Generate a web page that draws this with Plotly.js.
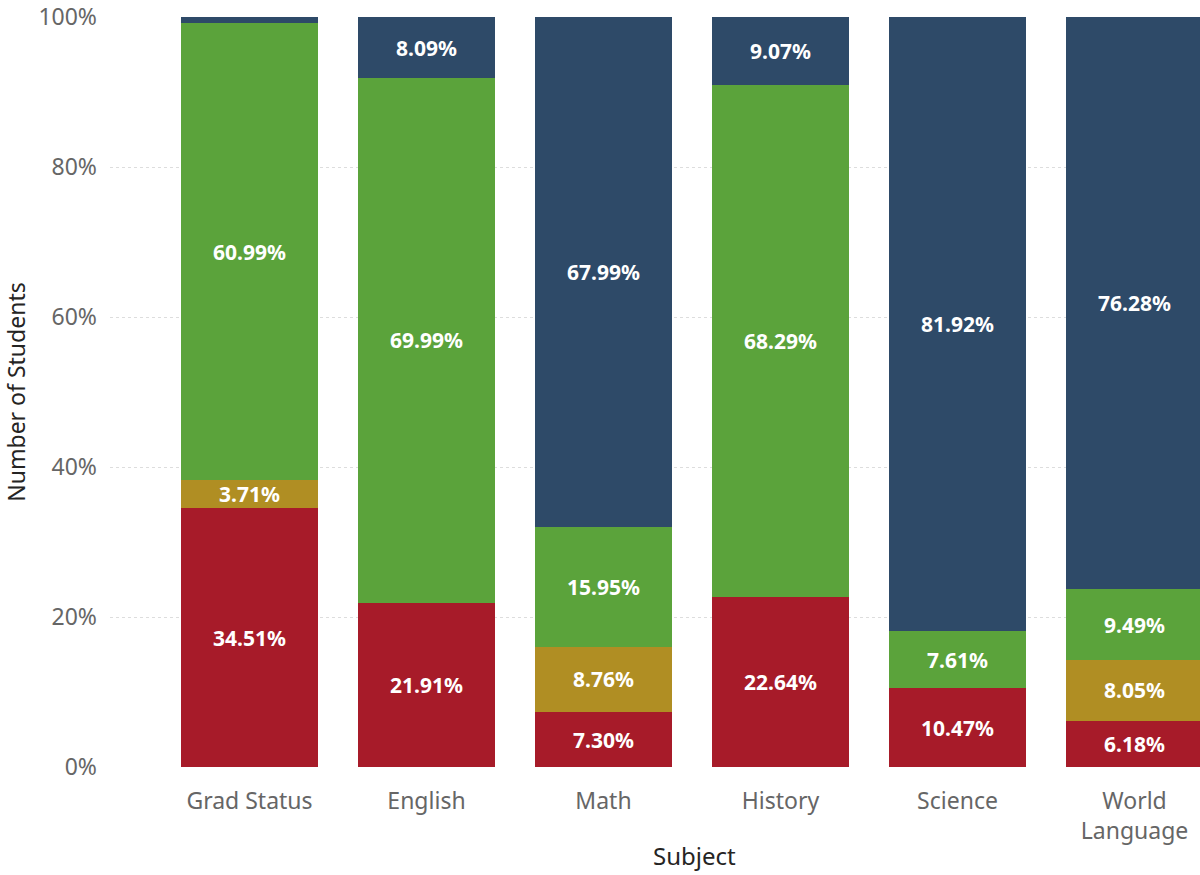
<!DOCTYPE html>
<html>
<head>
<meta charset="utf-8">
<script src="https://cdn.plot.ly/plotly-3.0.1.min.js"></script>
<style>html,body{margin:0;padding:0;background:#fff;}#chart{width:1200px;height:875px;}</style>
</head>
<body>
<div id="chart"></div>
<script>
const categories = ["Grad Status", "English", "Math", "History", "Science", "World<br>Language"];
const redValues   = [34.51, 21.91, 7.30, 22.64, 10.47, 6.18];
const goldValues  = [3.71, 0.00, 8.76, 0.00, 0.00, 8.05];
const greenValues = [60.99, 69.99, 15.95, 68.29, 7.61, 9.49];
const navyValues  = [0.79, 8.09, 67.99, 9.07, 81.92, 76.28];
const seriesNames = ["Red", "Gold", "Green", "Navy"];
const seriesColors = ["#A71B29", "#B08E23", "#5BA33B", "#2E4A68"];
const yTickVals = [0, 20, 40, 60, 80, 100];

const FONT = "'Segoe UI', 'Noto Sans', 'Open Sans', sans-serif";
const allValues = [redValues, goldValues, greenValues, navyValues];
const labelOf = v => v >= 2 ? v.toFixed(2) + '%' : '';

const traces = allValues.map((vals, i) => ({
  type: 'bar',
  name: seriesNames[i],
  x: categories,
  y: vals,
  text: vals.map(labelOf),
  textposition: 'inside',
  insidetextanchor: 'middle',
  textangle: 0,
  constraintext: 'none',
  textfont: {family: FONT, size: 21, color: '#ffffff', weight: 'bold'},
  marker: {color: seriesColors[i], line: {width: 0}},
  hoverinfo: 'skip'
}));

const layout = {
  width: 1200, height: 875,
  barmode: 'stack',
  bargap: 0.226,
  showlegend: false,
  paper_bgcolor: '#ffffff',
  plot_bgcolor: '#ffffff',
  margin: {l: 110, r: 0, t: 17, b: 108},
  font: {family: FONT, color: '#666666'},
  xaxis: {
    type: 'category',
    range: [-0.788, 5.37],
    showgrid: false,
    zeroline: false,
    showline: false,
    ticks: '',
    tickfont: {family: FONT, size: 23, color: '#666666'},
    ticklabelstandoff: 18
  },
  yaxis: {
    range: [0, 100.02],
    tickvals: yTickVals,
    ticktext: yTickVals.map(v => v + '%'),
    showgrid: true,
    gridcolor: '#dddddd',
    griddash: 'dot',
    gridwidth: 1,
    zeroline: false,
    showline: false,
    ticks: '',
    ticklabelstandoff: 12,
    ticklabeloverflow: 'allow',
    tickfont: {family: FONT, size: 23, color: '#666666'},
    title: {text: 'Number of Students', font: {family: FONT, size: 23, color: '#252423'}, standoff: 16}
  },
  annotations: [{
    text: 'Subject', xref: 'paper', yref: 'paper',
    x: (694 - 110) / 1090, y: -0.118, xanchor: 'center', yanchor: 'middle',
    showarrow: false,
    font: {family: FONT, size: 24, color: '#252423'}
  }]
};

Plotly.newPlot('chart', traces, layout, {displayModeBar: false, staticPlot: true});
</script>
</body>
</html>
